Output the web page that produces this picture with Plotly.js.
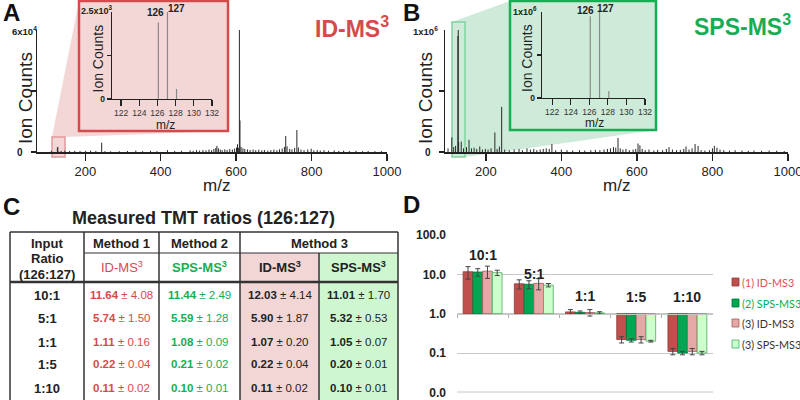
<!DOCTYPE html>
<html><head><meta charset="utf-8">
<script src="https://cdn.plot.ly/plotly-3.0.1.min.js"></script>
<style>html,body{margin:0;padding:0;background:#fff}#chart{width:800px;height:400px}</style>
</head><body><div id="chart"></div>
<script>
// ---------- DATA ----------
// Panel A spectrum (ID-MS3)
const specA_mz = [110,126.1,127.1,128.1,136,146,158,172,186,201,
  214,228,243.5,252,267,290,312,334,352,373,
  390,418,437,455,478,486,495,503,512,520,
  528,535,541,546,549,553,558,563,570,576,
  583,590,596,601,603.6,606,608.6,610.2,613,618,
  623,630,637,645,652,660,668,675,684,692,
  700,708,715,722,728,731.5,735,742,748,755,
  761,765,772,780,790,799,806,815,823,833,
  845,860,872,885,900,918,935,950,968,985];
const specA_int = [600,2200,2500,290,500,700,500,600,500,600,
  700,500,4600,400,300,400,500,700,400,600,
  400,900,500,600,800,600,900,700,1000,800,
  1200,900,1500,2000,3000,1800,1200,900,1300,1000,
  1400,1200,1700,2200,3800,2000,60000,15500,2500,1800,
  1500,1300,1000,1200,900,1100,800,1000,700,900,
  1200,900,1300,1700,2500,7900,2800,1500,1300,2000,
  10800,2200,1200,900,1200,1600,800,1000,700,900,
  600,800,500,700,500,600,400,500,400,500];
// Panel B spectrum (SPS-MS3)
const specB_mz = [100,110,115,120,126.1,127.1,128.1,135,141,149,
  155.6,162,169,176,184,191,199,206,214,224,
  230,236,242,250,262,275,288,297,309,318,
  327,335,344,352,360,368,375,385,400,415,
  430,448,462,478,490,502,513,522,530,538,
  544,550,556,563,571,580,590,597,603,608,
  614,622,632,645,655,668,678,685,694,705,
  715,724,730,738,746,754,762,770,780,792,
  800,805,812,820,830,845,860,878,895,910,
  930,950,970,990];
const specB_int = [30000,120000,40000,50000,950000,1000000,80000,85000,30000,40000,
  100000,30000,35000,25000,45000,20000,25000,20000,30000,160000,
  25000,45000,370000,20000,15000,20000,25000,15000,30000,20000,
  25000,15000,20000,25000,30000,25000,65000,15000,20000,15000,
  12000,15000,12000,15000,18000,15000,20000,25000,30000,40000,
  35000,115000,30000,20000,25000,15000,20000,25000,70000,55000,
  25000,15000,20000,12000,18000,15000,25000,40000,20000,15000,
  18000,25000,45000,20000,30000,65000,50000,15000,12000,15000,
  30000,50000,35000,20000,15000,12000,15000,12000,10000,12000,
  10000,12000,10000,8000];
const specTicks = [200,400,600,800,1000];
const insetTicks = [122,124,126,128,130,132];

// Panels C / D: measured TMT ratios (126:127)
const ratioLabels = ['10:1','5:1','1:1','1:5','1:10'];
const m1Mean = [11.64,5.74,1.11,0.22,0.11];
const m1SD   = [4.08,1.50,0.16,0.04,0.02];
const m2Mean = [11.44,5.59,1.08,0.21,0.10];
const m2SD   = [2.49,1.28,0.09,0.02,0.01];
const m3IdMean  = [12.03,5.90,1.07,0.22,0.11];
const m3IdSD    = [4.14,1.87,0.20,0.04,0.02];
const m3SpsMean = [11.01,5.32,1.05,0.20,0.10];
const m3SpsSD   = [1.70,0.53,0.07,0.01,0.01];
const seriesNames = ['(1) ID-MS3','(2) SPS-MS3','(3) ID-MS3','(3) SPS-MS3'];
const logTickVals = [0.01,0.1,1,10,100];
const logTickText = ['0.0','0.1','1.0','10.0','100.0'];

// ---------- HELPERS ----------
const W = 800, H = 400;
const px = x => x / W, py = y => 1 - y / H;
const FONT = 'Liberation Sans, Arial, sans-serif';
const RED = '#d54b4b', GREEN = '#17ad55', INK = '#222';
const PINKFILL = '#f3d7d7', GREENFILL = '#cdebd8';

function sticks(mz, ints) {
  const x = [], y = [];
  mz.forEach((m, i) => { x.push(m, m, null); y.push(0, ints[i], null); });
  return {x, y};
}
const annotations = [];
function T(text, x, y, size, opt) {
  opt = opt || {};
  annotations.push(Object.assign({
    text, x: px(x), y: py(y), xref: 'paper', yref: 'paper', showarrow: false,
    xanchor: 'center', yanchor: 'middle',
    font: {family: opt.family || FONT, size, color: opt.color || INK}
  }, opt.extra || {}));
}
const shapes = [];
function rect(x0, y0, x1, y1, fill, line, lw, layer) {
  shapes.push({type: 'rect', xref: 'paper', yref: 'paper', x0: px(x0), x1: px(x1), y0: py(y0), y1: py(y1),
    fillcolor: fill || 'rgba(0,0,0,0)', line: {color: line || 'rgba(0,0,0,0)', width: lw || 0}, layer: layer || 'below'});
}
function seg(x0, y0, x1, y1, color, w, layer) {
  shapes.push({type: 'line', xref: 'paper', yref: 'paper', x0: px(x0), x1: px(x1), y0: py(y0), y1: py(y1),
    line: {color, width: w}, layer: layer || 'above'});
}
function poly(pts, fill) {
  const d = pts.map((p, i) => (i ? 'L' : 'M') + px(p[0]) + ',' + py(p[1])).join(' ') + ' Z';
  shapes.push({type: 'path', xref: 'paper', yref: 'paper', path: d, fillcolor: fill, line: {width: 0}, layer: 'below'});
}

// ---------- TRACES ----------
const sA = sticks(specA_mz, specA_int), sB = sticks(specB_mz, specB_int);
const lineTrace = (s, xa, ya, color, w) => ({type: 'scatter', mode: 'lines', x: s.x, y: s.y, xaxis: xa, yaxis: ya,
  line: {color, width: w}, hoverinfo: 'skip', showlegend: false, connectgaps: false});
const traces = [
  lineTrace(sA, 'x', 'y', '#2a2a2a', 1),
  lineTrace(sA, 'x2', 'y2', '#8a8a8a', 1.2),
  lineTrace(sB, 'x3', 'y3', '#2a2a2a', 1),
  lineTrace(sB, 'x4', 'y4', '#8a8a8a', 1.2)
];
const barStyles = [
  {c: '#c0504d', l: '#8e3a38'},
  {c: '#00a651', l: '#00743a'},
  {c: '#e6a7a7', l: '#a05a5a'},
  {c: '#ccffcc', l: '#4fa860'}
];
const means = [m1Mean, m2Mean, m3IdMean, m3SpsMean];
const sds = [m1SD, m2SD, m3IdSD, m3SpsSD];
means.forEach((mv, k) => {
  traces.push({type: 'bar', name: seriesNames[k], x: ratioLabels, y: mv.map(v => v - 1), base: 1,
    xaxis: 'x5', yaxis: 'y5', showlegend: false,
    marker: {color: barStyles[k].c, line: {color: barStyles[k].l, width: 0.8}},
    error_y: {type: 'data', array: sds[k], visible: true, color: '#444', thickness: 1, width: 2.5}});
});

// ---------- SHAPES (zoom cones, insets, table) ----------
poly([[52,137],[79,1],[228,1],[228,131],[65,137],[65,157],[52,157]], PINKFILL);
rect(52,137,65,157,null,'#e49a9a',1.5);
rect(79,1,228,131,PINKFILL,RED,2.5);
poly([[452,22],[510,1],[656,1],[656,130],[465,157],[452,157]], GREENFILL);
rect(452,22,465,157,null,'#7fd3a0',1.5);
rect(510,1,656,130,GREENFILL,GREEN,2.5);

// table
rect(240,253,319,401,'#f2d6d6');
rect(319,253,398,401,'#cff7cf');
const TL = '#333';
seg(10,232,398,232,TL,1.5); seg(10,232,10,401,TL,1.5); seg(398,232,398,401,TL,1.5);
seg(84,232,84,401,TL,1.5); seg(159,232,159,401,TL,1.5); seg(240,232,240,401,TL,1.5);
seg(319,253,319,401,TL,1.5);
seg(84,253,398,253,TL,1.2);
seg(10,282,398,282,TL,2.5);

// bottom grid line of panel D (0.0 level)
seg(457,392,713,392,'#c8c8c8',1,'below');

// legend squares for D
const legY = [282,303,323,344];
barStyles.forEach((b, k) => rect(732, legY[k]-4, 739, legY[k]+4, b.c, b.l, 0.8, 'above'));

// ---------- TEXT ----------
T('<b>A</b>', 11.5, 13, 24, {color: '#111'});
T('<b>B</b>', 411.5, 13, 24, {color: '#111'});
T('<b>C</b>', 11.5, 207, 24, {color: '#111'});
T('<b>D</b>', 411.5, 205, 24, {color: '#111'});
T('<b>ID-MS<sup>3</sup></b>', 352, 27, 23, {color: RED});
T('<b>SPS-MS<sup>3</sup></b>', 742, 25, 23, {color: GREEN});
T('Ion Counts', 25.5, 98.5, 19, {extra: {textangle: -90}});
T('Ion Counts', 425.5, 98.5, 19, {extra: {textangle: -90}});
T('Ion Counts', 97.5, 59, 14, {extra: {textangle: -90}});
T('Ion Counts', 527, 58, 14, {extra: {textangle: -90}});
T('m/z', 216, 185, 17);
T('m/z', 616.5, 185, 17);
T('m/z', 165, 125, 12);
T('m/z', 594, 123, 12);
T('<b>6x10<sup>4</sup></b>', 24.5, 31, 9.5);
T('<b>1x10<sup>6</sup></b>', 425, 31, 9.5);
T('<b>2.5x10<sup>3</sup></b>', 97, 10, 9);
T('<b>1x10<sup>6</sup></b>', 525, 11, 9);
T('<b>126</b>', 155, 12.5, 10); T('<b>127</b>', 176, 8, 10);
T('<b>126</b>', 585, 10, 10); T('<b>127</b>', 605, 8, 10);

// table text
T('<b>Measured TMT ratios (126:127)</b>', 203.5, 218, 18);
T('<b>Input</b>', 47, 243, 13); T('<b>Ratio</b>', 47, 258.5, 13); T('<b>(126:127)</b>', 47, 274, 13);
T('<b>Method 1</b>', 121.5, 243.5, 13); T('<b>Method 2</b>', 199.5, 243.5, 13); T('<b>Method 3</b>', 319, 243.5, 13);
T('ID-MS<sup>3</sup>', 121.5, 267, 13, {color: RED});
T('<b>SPS-MS<sup>3</sup></b>', 199.5, 267, 13, {color: GREEN});
T('<b>ID-MS<sup>3</sup></b>', 279.5, 267, 13);
T('<b>SPS-MS<sup>3</sup></b>', 358.5, 267, 13);
const rowY = [295,318,342,364,388];
const colX = [121.5,199.5,279.5,358.5];
const colColor = [RED, GREEN, INK, INK];
ratioLabels.forEach((r, i) => {
  T('<b>' + r + '</b>', 47, rowY[i], 13);
  means.forEach((mv, k) => {
    T('<b>' + mv[i].toFixed(2) + '</b> ± ' + sds[k][i].toFixed(2), colX[k], rowY[i], 11.5, {color: colColor[k]});
  });
});

// panel D labels
const catLabelY = [255,274,296,297,297];
ratioLabels.forEach((r, i) => {
  annotations.push({text: '<b>' + r + '</b>', xref: 'x5', yref: 'paper', x: r, y: py(catLabelY[i]),
    showarrow: false, xanchor: 'center', yanchor: 'middle', font: {family: FONT, size: 14, color: INK}});
});
const legColors = ['#d9534f', '#00b050', '#333', '#333'];
seriesNames.forEach((n, k) => T(n, 740, legY[k], 10.8, {color: legColors[k], family: 'Lato, Carlito, sans-serif', extra: {xanchor: 'left'}}));

// ---------- LAYOUT ----------
const axBase = {showgrid: false, zeroline: false, showline: true, linecolor: '#222', linewidth: 1.5,
  ticks: 'outside', tickcolor: '#222', tickwidth: 1.5, fixedrange: true, ticklabeloverflow: 'allow'};
const layout = {
  width: W, height: H, margin: {l: 0, r: 0, t: 0, b: 0}, autosize: false,
  paper_bgcolor: '#fff', plot_bgcolor: 'rgba(0,0,0,0)', showlegend: false,
  font: {family: FONT, color: INK},
  xaxis: Object.assign({}, axBase, {domain: [px(37), px(387)], range: [72, 1000], anchor: 'y',
    tickvals: specTicks, ticklen: 7, tickfont: {size: 13}}),
  yaxis: Object.assign({}, axBase, {domain: [py(152), py(30)], range: [0, 60000], anchor: 'x',
    tickvals: [0], ticktext: ['<b>0</b>'], ticklen: 5, ticklabelstandoff: 6, tickfont: {size: 10},
    minor: {tickvals: [30000], ticks: 'outside', ticklen: 5, tickwidth: 1.5, tickcolor: '#222'}}),
  xaxis2: Object.assign({}, axBase, {domain: [px(112), px(212)], range: [121, 132], anchor: 'y2',
    tickvals: insetTicks, ticklen: 6, tickwidth: 1.2, linewidth: 1.2, tickfont: {size: 8.5, color: '#333'}}),
  yaxis2: Object.assign({}, axBase, {domain: [py(99), py(12)], range: [0, 2500], anchor: 'x2',
    tickvals: [0], ticktext: ['<b>0</b>'], ticklen: 4, tickwidth: 1.2, linewidth: 1.2, tickfont: {size: 8.5},
    minor: {tickvals: [1250], ticks: 'outside', ticklen: 4, tickwidth: 1.2, tickcolor: '#222'}}),
  xaxis3: Object.assign({}, axBase, {domain: [px(445), px(788)], range: [92, 1000], anchor: 'y3',
    tickvals: specTicks, ticklen: 7, tickfont: {size: 13}}),
  yaxis3: Object.assign({}, axBase, {domain: [py(152), py(30)], range: [0, 1000000], anchor: 'x3',
    tickvals: [0], ticktext: ['<b>0</b>'], ticklen: 5, ticklabelstandoff: 6, tickfont: {size: 10},
    minor: {tickvals: [500000], ticks: 'outside', ticklen: 5, tickwidth: 1.5, tickcolor: '#222'}}),
  xaxis4: Object.assign({}, axBase, {domain: [px(542), px(645)], range: [120.9, 132], anchor: 'y4',
    tickvals: insetTicks, ticklen: 6, tickwidth: 1.2, linewidth: 1.2, tickfont: {size: 8.5, color: '#333'}}),
  yaxis4: Object.assign({}, axBase, {domain: [py(98), py(12)], range: [0, 1000000], anchor: 'x4',
    tickvals: [0], ticktext: ['<b>0</b>'], ticklen: 4, tickwidth: 1.2, linewidth: 1.2, tickfont: {size: 8.5},
    minor: {tickvals: [500000], ticks: 'outside', ticklen: 4, tickwidth: 1.2, tickcolor: '#222'}}),
  xaxis5: {domain: [px(457), px(713)], type: 'category', anchor: 'free', position: py(314),
    showline: true, linecolor: '#c4c4c4', linewidth: 1, ticks: 'outside', tickson: 'boundaries', ticklen: 3,
    tickcolor: '#aaa', showticklabels: false, showgrid: false, zeroline: false, fixedrange: true},
  yaxis5: {domain: [py(392.5), py(235)], type: 'log', range: [-2.004, 2], anchor: 'x5',
    tickvals: logTickVals, ticktext: logTickText.map(t => '<b>' + t + '</b>'), showgrid: true, gridcolor: '#c8c8c8',
    gridwidth: 1, showline: false, ticks: '', ticklabelstandoff: 10, tickfont: {size: 12, color: INK},
    zeroline: false, fixedrange: true},
  barmode: 'group', bargap: 0.24, bargroupgap: 0,
  shapes, annotations
};
Plotly.newPlot('chart', traces, layout, {staticPlot: true, displayModeBar: false});
</script>
</body></html>
